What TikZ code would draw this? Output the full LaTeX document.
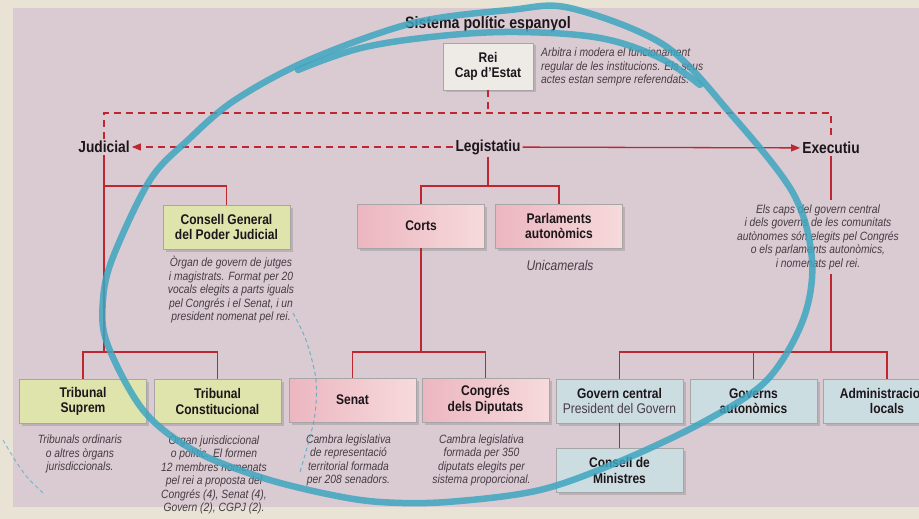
\documentclass[tikz,border=0pt]{standalone}
\usepackage{fontspec}
\setmainfont{Liberation Sans}[FakeStretch=0.86]
\usetikzlibrary{arrows.meta,positioning,shadows,calc}

\definecolor{paper}{RGB}{233,227,214}
\definecolor{panel}{RGB}{218,203,211}
\definecolor{linkred}{RGB}{190,38,48}
\definecolor{greenfill}{RGB}{223,227,172}
\definecolor{pinkleft}{RGB}{236,182,192}
\definecolor{pinkright}{RGB}{246,218,220}
\definecolor{bluefill}{RGB}{204,221,226}
\definecolor{reifill}{RGB}{238,234,230}
\definecolor{pen}{RGB}{62,166,192}
\definecolor{inktext}{RGB}{28,22,26}
\definecolor{notetext}{RGB}{70,60,66}

\newcommand{\boxfont}{\fontsize{14}{15.5}\selectfont\bfseries}
\newcommand{\notefont}{\fontsize{12}{13.5}\selectfont\itshape}

\begin{document}
\begin{tikzpicture}[x=1pt,y=-1pt,
    organ/.style={rectangle, draw=black!35, line width=0.6pt, minimum width=127pt,
        minimum height=44pt, align=center, font=\boxfont, text=inktext, inner sep=2pt,
        drop shadow={shadow xshift=2.5pt, shadow yshift=-2.5pt, opacity=0.35}},
    judbox/.style={organ, fill=greenfill},
    legbox/.style={organ, left color=pinkleft, right color=pinkright},
    exebox/.style={organ, fill=bluefill},
    power/.style={font=\fontsize{16}{18}\selectfont\bfseries, text=inktext, inner sep=2pt},
    note/.style={font=\notefont, text=notetext, align=center, inner sep=0pt},
    link/.style={draw=linkred, line width=1.3pt},
    dashlink/.style={draw=linkred, line width=1.3pt, dash pattern=on 7pt off 5pt},
    ink/.style={draw=pen, line width=6.5pt, opacity=0.85, line cap=round, line join=round}
]
        % Page and panel
        \useasboundingbox (0,0) rectangle (919,519);
        \clip (0,0) rectangle (919,519);
        \fill[paper] (0,0) rectangle (919,519);
        \fill[panel] (13,8) rectangle (919,507);

        % Head of state
        \node[power, font=\fontsize{16.5}{18}\selectfont\bfseries] (title) at (488,24) {Sistema polític espanyol};
        \node[organ, fill=reifill, minimum width=90pt, minimum height=47pt] (rei) at (488,66.5) {Rei\\Cap d'Estat};
        \node[note, align=left, anchor=west] (reinote) at (541,67) {Arbitra i modera el funcionament\\regular de les institucions. Els seus\\actes estan sempre referendats.};

        % The three powers
        \node[power] (jud) at (104,147) {Judicial};
        \node[power] (leg) at (488,147) {Legistatiu};
        \node[power] (exe) at (831,148) {Executiu};

        \coordinate (top) at (488,113);
        \coordinate (topL) at (104,113);
        \coordinate (topR) at (831,113);
        \draw[dashlink] (rei) -- (top);
        \draw[dashlink] (jud) -- (topL) -- (topR) -- (exe);
        \draw[dashlink, -{Triangle[length=9pt,width=7pt]}] (leg) -- (jud);
        \draw[link, -{Triangle[length=9pt,width=7pt]}] (leg) -- (exe);

        % Judicial branch
        \node[judbox] (cgpj) at (226.5,227) {Consell General\\del Poder Judicial};
        \node[note] (cgpjnote) at (231,290) {Òrgan de govern de jutges\\i magistrats. Format per 20\\vocals elegits a parts iguals\\pel Congrés i el Senat, i un\\president nomenat pel rei.};
        \node[judbox] (ts) at (83,401.5) {Tribunal\\Suprem};
        \node[judbox] (tc) at (217.5,401.5) {Tribunal\\Constitucional};
        \node[note] (tsnote) at (80,454) {Tribunals ordinaris\\o altres òrgans\\jurisdiccionals.};
        \node[note] (tcnote) at (214,474) {Òrgan jurisdiccional\\o polític. El formen\\12 membres nomenats\\pel rei a proposta del\\Congrés (4), Senat (4),\\Govern (2), CGPJ (2).};

        \coordinate (jud1) at (104,186);
        \coordinate (jud2) at (104,352);
        \draw[link] (jud) -- (jud2);
        \draw[link] (jud1) -| (cgpj);
        \draw[link] (ts) |- (jud2) -| (tc);

        % Legislative branch
        \node[legbox] (corts) at (421,226) {Corts};
        \node[legbox] (parl) at (559,226) {Parlaments\\autonòmics};
        \node[note, font=\fontsize{14}{16}\selectfont\itshape] (unicam) at (560,265) {Unicamerals};
        \node[legbox] (senat) at (352.5,400) {Senat};
        \node[legbox] (congres) at (485.5,400) {Congrés\\dels Diputats};
        \node[note] (senatnote) at (348.5,460.5) {Cambra legislativa\\de representació\\territorial formada\\per 208 senadors.};
        \node[note] (congresnote) at (481.5,460.5) {Cambra legislativa\\formada per 350\\diputats elegits per\\sistema proporcional.};

        \coordinate (leg1) at (488,186);
        \coordinate (leg2) at (421,352);
        \draw[link] (leg) -- (leg1);
        \draw[link] (corts) |- (leg1) -| (parl);
        \draw[link] (corts) -- (leg2);
        \draw[link] (senat) |- (leg2) -| (congres);

        % Executive branch
        \node[note, inner ysep=4pt] (exenote) at (818,237) {Els caps del govern central\\i dels governs de les comunitats\\autònomes són elegits pel Congrés\\o els parlaments autonòmics,\\i nomenats pel rei.};
        \node[exebox] (gc) at (619.5,401) {Govern central\\{\mdseries\color{notetext}President del Govern}};
        \node[exebox] (ga) at (753.5,401) {Governs\\autonòmics};
        \node[exebox] (al) at (887,401) {Administracions\\locals};
        \node[exebox] (cm) at (619.5,470.5) {Consell de\\Ministres};

        \coordinate (exe2) at (831,352);
        \draw[link] (exe) -- (exenote.north -| exe);
        \draw[link] (exenote.south -| exe) -- (exe2);
        \draw[link] (gc) |- (exe2) -| (al);
        \draw[link] (ga) -- (ga |- exe2);
        \draw[link] (gc) -- (cm);

        % Hand-drawn marker loop
        \draw[ink] plot[smooth cycle, tension=0.55] coordinates {(570,8) (664,45) (730,113) (793,193) (812,260) (803,320) (767,380) (707,420) (623,460) (540,490) (447,502) (380,502) (327,494) (260,477) (193,450) (143,410) (107,343) (103,300) (113,257) (150,180) (188,140) (235,100) (309,60) (413,23) (510,10)};
        \draw[ink] plot[smooth, tension=0.6] coordinates {(298,70) (361,48) (440,36) (518,32) (600,38) (660,58) (700,85)};
        \draw[pen, line width=1pt, dash pattern=on 4pt off 3pt, opacity=0.7] plot[smooth] coordinates {(293,313) (306,340) (316,380) (314,420) (300,472)};
        \draw[pen, line width=1pt, dash pattern=on 4pt off 3pt, opacity=0.6] plot[smooth] coordinates {(3,440) (15,460) (27,477) (43,493)};
    \end{tikzpicture}
\end{document}
